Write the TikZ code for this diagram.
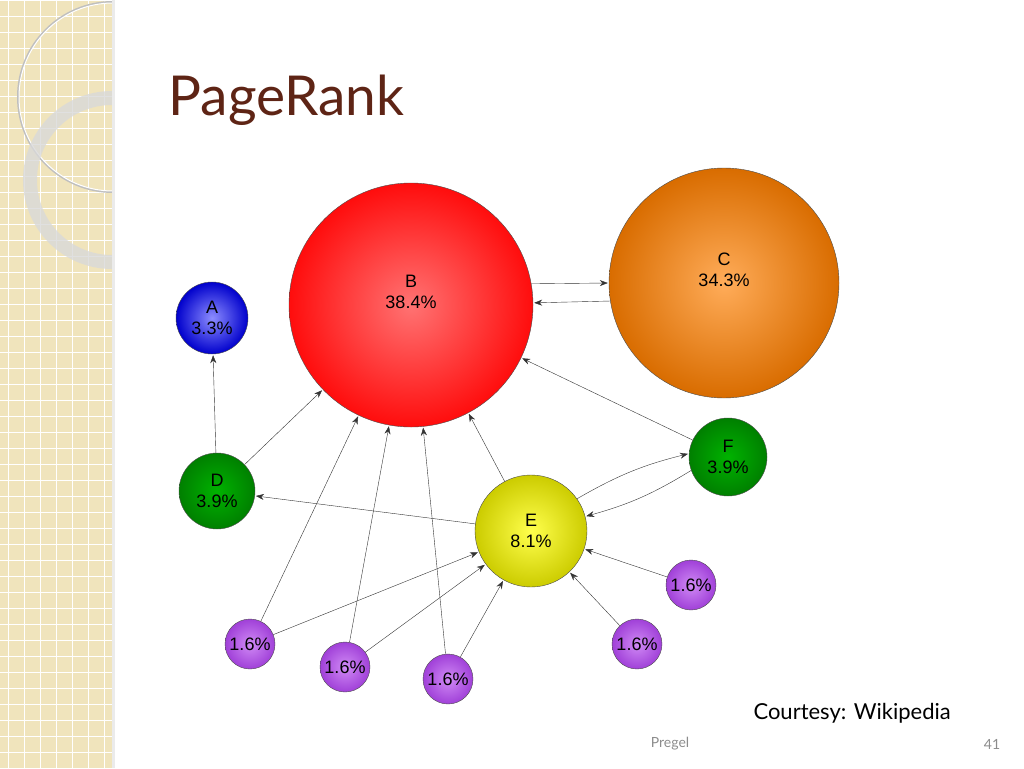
\documentclass[tikz,border=0pt]{standalone}
\usepackage{fontspec}
\setmainfont{Liberation Sans}
\newfontfamily\titlefont{Lato}
\usetikzlibrary{arrows.meta}
\definecolor{stripbg}{HTML}{F0E4BC}
\definecolor{titlebrown}{HTML}{5E2415}
\definecolor{purplein}{HTML}{D08AF5}
\definecolor{purpleout}{HTML}{A040D8}
\tikzset{
	page/.style={circle, draw=black!70, thin, inner sep=0pt, align=center, font=\fontsize{18}{21}\selectfont},
	link/.style={-{Stealth[length=8pt,width=6pt]}, black!80, thin, shorten >=1pt},
}
\begin{document}
\begin{tikzpicture}[x=1pt,y=-1pt]
	\useasboundingbox (0,0) rectangle (1024,768);
	% left strip
	\fill[stripbg] (0,0) rectangle (112,768);
	\begin{scope}
		\clip (0,0) rectangle (112,768);
		\foreach \g in {0,16,...,768}{
			\draw[white, line width=0.9pt] (0,\g) -- (112,\g);
		}
		\foreach \g in {8,24,...,112}{
			\draw[white, line width=0.9pt] (\g,0) -- (\g,768);
		}
		\draw[black!25, line width=2pt] (113,97) circle (95);
		\draw[white, line width=1pt] (113,97) circle (94);
		\draw[gray!30, line width=14pt, opacity=0.8] (112,180) circle (82);
	\end{scope}
	\fill[black!8] (112,0) rectangle (115,768);
	
	\node[anchor=west, text=titlebrown, font=\titlefont\fontsize{55}{60}\selectfont] (title) at (165,100) {PageRank};
	
	% pages
	\node[page, minimum size=72, shading=radial, inner color=blue!45, outer color=blue!80!black] (A) at (212,318) {A\\3.3\%};
	\node[page, minimum size=244, shading=radial, inner color=red!55, outer color=red!95] (B) at (411,305) {B\\38.4\%\\[6pt]};
	\node[page, minimum size=230, shading=radial, inner color=orange!65, outer color=orange!85!black] (C) at (724,283) {C\\34.3\%\\[6pt]};
	\node[page, minimum size=76, shading=radial, inner color=green!70!black, outer color=green!50!black] (D) at (217,491) {D\\3.9\%};
	\node[page, minimum size=112, shading=radial, inner color=yellow!70!white, outer color=yellow!80!black] (E) at (531,531) {E\\8.1\%};
	\node[page, minimum size=78, shading=radial, inner color=green!70!black, outer color=green!50!black] (F) at (728,457) {F\\3.9\%};
	\foreach \n/\x/\y in {p1/691/585, p2/637/644, p3/250/644, p4/345/667, p5/448/679}{
		\node[page, minimum size=50, shading=radial, inner color=purplein, outer color=purpleout] (\n) at (\x,\y) {1.6\%};
	}
	
	% links
	\draw[link] (D) -- (A);
	\draw[link] (D) -- (B);
	\draw[link] (E) -- (D);
	\draw[link] (E) -- (B);
	\draw[link] (F) -- (B);
	\draw[link] (F.200) to[bend left=8] (E.15);
	\draw[link] (E.35) to[bend left=8] (F.175);
	\draw[link] (B.10) -- (C.180);
	\draw[link] (C.189) -- (B.1);
	\foreach \n in {p3,p4,p5}{
		\draw[link] (\n) -- (B);
		\draw[link] (\n) -- (E);
	}
	\draw[link] (p1) -- (E);
	\draw[link] (p2) -- (E);
	
	\node[anchor=west, font=\fontsize{22}{26}\selectfont\titlefont] (credit) at (750,713) {Courtesy: Wikipedia};
	\node[text=black!45, font=\fontsize{14}{16}\selectfont\titlefont] (foot) at (670,744) {Pregel};
	\node[text=black!45, font=\fontsize{14}{16}\selectfont\titlefont] (num) at (992,744) {41};
\end{tikzpicture}
\end{document}
